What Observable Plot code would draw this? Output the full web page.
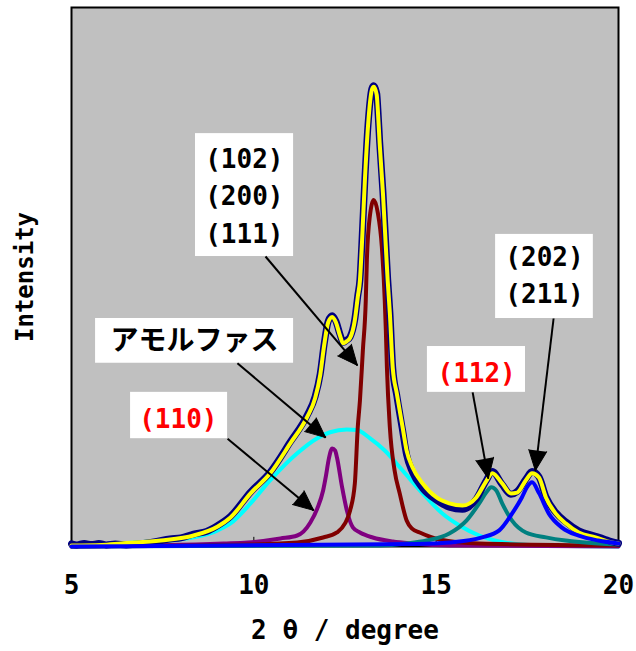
<!DOCTYPE html>
<html><head><meta charset="utf-8">
<script src="https://cdn.jsdelivr.net/npm/d3@7"></script>
<script src="https://cdn.jsdelivr.net/npm/@observablehq/plot@0.6"></script>
<style>
body{margin:0;background:#fff}
g[aria-label="labels"] text{letter-spacing:0px}
g[aria-label="kana"] text{letter-spacing:1.5px}
g[aria-label="ytitle"] text{letter-spacing:0.6px}
g[aria-label="xtitle"] text{letter-spacing:1px}
</style></head><body><div id="chart"></div>
<script>
// x: 2θ (degree), y: intensity (arbitrary, 0-100)
const xDomain = [5, 20];
const yDomain = [0, 100];
const xTicks = [5, 10, 15, 20];
const innerTicks = [10, 15];
const xTitle = "2 θ / degree";
const yTitle = "Intensity";

const observed = [[5.00,0.5],[5.15,0.3],[5.35,0.55],[5.55,0.35],[5.75,0.55],[5.95,0.3],[6.2,0.45],[6.5,0.3],[6.9,0.5],[7.3,0.9],[7.7,1.4],[8.0,1.6],[8.35,2.3],[8.7,2.8],[9.01,3.9],[9.36,5.6],[9.91,10.1],[10.45,13.8],[11.0,19.4],[11.46,24.3],[11.68,27.8],[11.82,32.0],[11.93,37.6],[12.04,41.8],[12.15,42.8],[12.25,41.8],[12.36,39.4],[12.45,37.9],[12.55,38.3],[12.64,38.9],[12.77,42.2],[12.85,46.5],[12.91,49.6],[12.96,55.8],[13.05,68.8],[13.13,78.1],[13.24,85.0],[13.29,85.5],[13.37,84.0],[13.40,81.2],[13.45,75.1],[13.54,65.8],[13.62,55.8],[13.67,49.6],[13.73,43.5],[13.81,33.0],[13.92,28.0],[14.08,21.5],[14.19,17.0],[14.35,13.8],[14.63,10.8],[15.01,8.6],[15.36,7.3],[15.72,6.9],[16.10,8.8],[16.37,12.2],[16.54,13.9],[16.81,11.5],[17.05,9.7],[17.22,10.2],[17.46,12.5],[17.63,13.9],[17.82,12.9],[18.01,9.2],[18.28,6.3],[18.55,4.6],[18.91,2.9],[19.37,1.9],[19.6,1.4],[19.81,0.9],[20.0,0.6]];

const fitTotal = [[5.00,0.19],[5.82,0.28],[6.36,0.56],[7.45,1.12],[8.35,2.04],[9.01,3.72],[9.36,5.39],[9.91,9.85],[10.45,13.57],[11.00,19.14],[11.46,24.0],[11.68,27.5],[11.82,31.8],[11.93,37.4],[12.04,41.6],[12.15,42.6],[12.25,41.6],[12.36,39.2],[12.45,37.7],[12.55,38.1],[12.64,38.7],[12.77,42.0],[12.85,46.3],[12.91,49.4],[12.96,55.6],[13.05,68.6],[13.13,77.9],[13.24,84.8],[13.29,85.3],[13.37,83.8],[13.40,81.0],[13.45,74.9],[13.54,65.6],[13.62,55.6],[13.67,49.4],[13.73,43.3],[13.81,33.1],[13.92,28.4],[14.08,22.1],[14.19,17.8],[14.35,14.7],[14.63,11.7],[15.01,9.1],[15.36,8.0],[15.72,7.6],[16.10,9.1],[16.37,12.1],[16.54,13.6],[16.81,11.7],[17.05,9.85],[17.22,10.0],[17.46,12.3],[17.63,13.6],[17.82,12.8],[18.01,9.1],[18.28,6.1],[18.55,4.3],[18.91,2.6],[19.37,1.7],[19.81,0.74],[20.00,0.56]];

const amorphous = [[5.00,0.09],[6.36,0.56],[7.18,0.93],[7.81,1.2],[8.35,1.7],[9.01,3.0],[9.36,4.28],[9.91,8.0],[10.45,12.3],[11.19,17.3],[11.74,20.1],[12.09,21.2],[12.55,21.7],[12.83,21.6],[13.18,20.1],[13.59,17.8],[14.08,14.1],[14.63,9.85],[15.17,6.13],[15.64,3.9],[16.18,2.04],[16.73,0.93],[17.55,0.28],[20.0,0.0]];

const peak110 = [[5.0,0.0],[9.17,0.56],[9.83,0.74],[10.73,1.49],[11.19,2.04],[11.55,4.46],[11.74,7.06],[11.90,10.4],[11.98,13.2],[12.06,16.4],[12.15,18.2],[12.23,17.8],[12.28,16.5],[12.42,11.0],[12.55,6.7],[12.72,3.5],[12.91,2.6],[13.26,1.67],[13.81,0.93],[14.35,0.56],[15.36,0.19],[20.0,0.0]];

const peak102 = [[5.0,0.0],[9.91,0.37],[11.19,0.74],[11.90,1.67],[12.28,2.60],[12.50,4.28],[12.64,6.69],[12.77,11.7],[12.85,22.1],[12.91,27.1],[12.99,36.4],[13.07,45.7],[13.10,53.2],[13.18,61.2],[13.29,64.3],[13.40,61.9],[13.51,55.6],[13.59,45.7],[13.62,40.1],[13.65,33.1],[13.73,22.1],[13.86,14.1],[14.00,9.85],[14.19,4.83],[14.33,3.35],[14.55,2.6],[15.09,1.3],[16.18,0.56],[20.0,0.19]];

const peak112 = [[5.0,0.0],[13.45,0.2],[14.19,0.56],[14.74,1.1],[15.36,2.4],[15.83,4.8],[16.18,8.0],[16.37,10.0],[16.51,11.0],[16.65,10.4],[16.81,8.0],[17.08,4.8],[17.46,2.6],[18.01,1.7],[18.55,1.1],[19.45,0.56],[20.0,0.37]];

const peak202 = [[5.0,0.0],[14.46,0.46],[15.36,0.74],[16.26,1.7],[16.73,3.0],[17.08,6.1],[17.35,9.1],[17.49,11.0],[17.63,11.9],[17.82,9.9],[18.09,6.1],[18.45,3.5],[18.91,2.0],[19.45,1.1],[20.0,0.56]];

// annotations
const labelTexts = ["(102)\n(200)\n(111)", "アモルファス", "(110)", "(112)", "(202)\n(211)"];
const labelColors = ["black", "black", "red", "red", "black"];
const labelX = [9.74, 8.37, 7.93, 16.11, 17.97];
const labelY = [65.5, 38.2, 24.3, 32.8, 50.8];
const boxX1 = [8.40, 5.66, 6.62, 14.76, 16.63];
const boxX2 = [11.09, 11.09, 9.28, 17.45, 19.31];
const boxY1 = [53.8, 34.0, 20.0, 28.6, 42.3];
const boxY2 = [76.6, 42.3, 28.6, 37.1, 57.9];
const arrowX1 = [10.32, 9.55, 9.28, 16.00, 18.22];
const arrowY1 = [53.8, 34.0, 20.0, 28.6, 42.3];
const arrowX2 = [12.84, 11.97, 11.64, 16.43, 17.72];
const arrowY2 = [33.6, 20.2, 6.7, 12.6, 14.1];

const W = 636, H = 651, mL = 71, mR = 18, mT = 7, mB = 105;
const xs = d3.scaleLinear(xDomain, [mL, W - mR]);
const ys = d3.scaleLinear(yDomain, [H - mB, mT]);

const annots = labelTexts.map((t, i) => ({
  text: t, color: labelColors[i], lx: labelX[i], ly: labelY[i],
  bx1: boxX1[i], bx2: boxX2[i], by1: boxY1[i], by2: boxY2[i],
  ax1: arrowX1[i], ay1: arrowY1[i], ax2: arrowX2[i], ay2: arrowY2[i],
  rot: Math.atan2(xs(arrowX2[i]) - xs(arrowX1[i]), -(ys(arrowY2[i]) - ys(arrowY1[i]))) * 180 / Math.PI,
  kana: i === 1
}));

const latin = "DejaVu Sans Mono, Noto Sans CJK JP, monospace";
const line = (data, stroke, w) => Plot.line(data, {x: d => d[0], y: d => d[1], stroke, strokeWidth: w, curve: "monotone-x", strokeLinejoin: "round", strokeLinecap: "round"});

const chart = Plot.plot({
  width: W, height: H,
  marginLeft: mL, marginRight: mR, marginTop: mT, marginBottom: mB,
  style: {background: "white", overflow: "visible"},
  x: {domain: xDomain},
  y: {domain: yDomain, axis: null},
  marks: [
    Plot.frame({fill: "#C0C0C0", stroke: "black", strokeWidth: 2}),
    Plot.ruleX(innerTicks, {y1: 0, y2: 1.7, stroke: "black", strokeWidth: 1}),
    line(amorphous, "#00FFFF", 4),
    line(peak110, "#800080", 4),
    line(peak102, "#800000", 4),
    line(peak112, "#008080", 4),
    line(observed, "#000080", 7),
    line(fitTotal, "#FFFF00", 4),
    line(peak202, "#0000FF", 4),
    Plot.rect(annots, {x1: "bx1", x2: "bx2", y1: "by1", y2: "by2", fill: "white"}),
    Plot.link(annots, {x1: "ax1", y1: "ay1", x2: "ax2", y2: "ay2", stroke: "black", strokeWidth: 2}),
    Plot.vector(annots, {x: "ax2", y: "ay2", rotate: "rot", length: 20, anchor: "end", shape: "spike", r: 9, fill: "black", stroke: "black", strokeWidth: 1}),
    Plot.text(annots.filter(d => !d.kana), {x: "lx", y: "ly", text: "text", fill: "color", fontSize: 26, fontWeight: "bold", fontFamily: latin, lineHeight: 1.44, lineAnchor: "middle", ariaLabel: "labels"}),
    Plot.text(annots.filter(d => d.kana), {x: "lx", y: "ly", text: "text", fill: "color", fontSize: 28, fontWeight: "bold", fontFamily: "Noto Sans CJK JP, sans-serif", lineAnchor: "middle", ariaLabel: "kana"}),
    Plot.axisX(xTicks, {tickSize: 0, tickPadding: 29, fontSize: 26, fontWeight: "bold", fontFamily: latin, fill: "black", label: null}),
    Plot.text([xTitle], {frameAnchor: "bottom", dy: 84, text: d => d, fontSize: 26, fontWeight: "bold", fontFamily: latin, fill: "black", textAnchor: "middle", lineAnchor: "middle", ariaLabel: "xtitle"}),
    Plot.text([yTitle], {frameAnchor: "left", dx: -46, rotate: -90, text: d => d, fontSize: 24, fontWeight: "bold", fontFamily: latin, fill: "black", textAnchor: "middle", lineAnchor: "middle", ariaLabel: "ytitle"})
  ]
});
document.getElementById("chart").appendChild(chart);
</script></body></html>
